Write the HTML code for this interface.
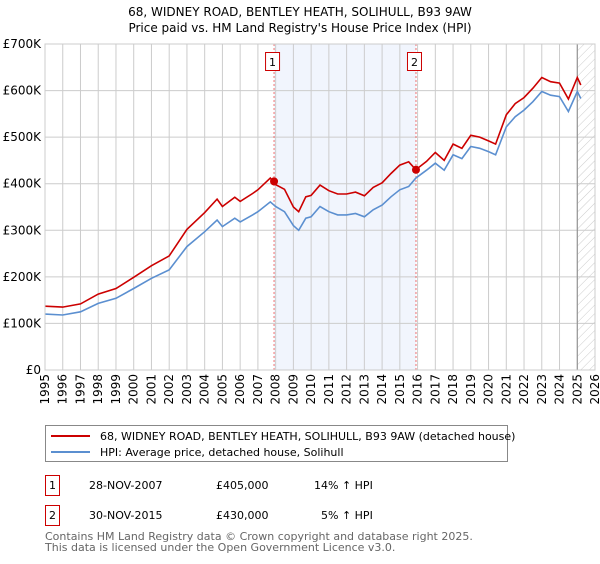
<!DOCTYPE html>
<html><head><meta charset="utf-8"><style>
body{margin:0;background:#fff;font-family:"DejaVu Sans","Liberation Sans",sans-serif;}
svg text{font-family:"DejaVu Sans","Liberation Sans",sans-serif;}
</style></head><body>
<svg id="c" width="600" height="560">
<defs><pattern id="hatch" width="6" height="6" patternUnits="userSpaceOnUse" patternTransform="rotate(45)"><line x1="0" y1="0" x2="0" y2="6" stroke="#ccc" stroke-width="1"/></pattern></defs>
<text x="300" y="16" text-anchor="middle" font-size="12">68, WIDNEY ROAD, BENTLEY HEATH, SOLIHULL, B93 9AW</text>
<text x="300" y="32" text-anchor="middle" font-size="12">Price paid vs. HM Land Registry's House Price Index (HPI)</text>
<g id="plot"></g>
<g>
<rect x="45.5" y="425.5" width="462" height="36" fill="#fff" stroke="#888"/>
<line x1="51" y1="436" x2="90" y2="436" stroke="#cc0000" stroke-width="2"/>
<text x="100" y="440" font-size="11">68, WIDNEY ROAD, BENTLEY HEATH, SOLIHULL, B93 9AW (detached house)</text>
<line x1="51" y1="452" x2="90" y2="452" stroke="#5b8fd0" stroke-width="2"/>
<text x="100" y="456" font-size="11">HPI: Average price, detached house, Solihull</text>
</g>
<g font-size="11">
<rect x="45.5" y="475.5" width="14" height="20" fill="#fff" stroke="#cc0000"/><text x="52.5" y="489" text-anchor="middle">1</text>
<text x="89" y="489">28-NOV-2007</text><text x="216" y="489">£405,000</text><text x="314" y="489">14% ↑ HPI</text>
<rect x="45.5" y="505.5" width="14" height="20" fill="#fff" stroke="#cc0000"/><text x="52.5" y="519" text-anchor="middle">2</text>
<text x="89" y="519">30-NOV-2015</text><text x="216" y="519">£430,000</text><text x="321" y="519">5% ↑ HPI</text>
</g>
<text x="45" y="540" font-size="11" fill="#666">Contains HM Land Registry data © Crown copyright and database right 2025.</text>
<text x="45" y="551" font-size="11" fill="#666">This data is licensed under the Open Government Licence v3.0.</text>
</svg>
<script>
const hpiYears=[1995,1996,1997,1998,1999,2000,2001,2002,2003,2004,2004.7,2005,2005.7,2006,2006.7,2007,2007.7,2008,2008.5,2009,2009.3,2009.7,2010,2010.5,2011,2011.5,2012,2012.5,2013,2013.5,2014,2014.5,2015,2015.5,2015.9,2016.5,2017,2017.5,2018,2018.5,2019,2019.5,2020,2020.4,2021,2021.5,2022,2022.5,2023,2023.5,2024,2024.5,2025,2025.2];
const hpiValues=[120,118,125,143,154,175,197,215,265,297,322,308,326,318,333,340,361,351,340,310,300,326,329,351,340,333,333,336,329,344,354,372,387,394,412,429,444,429,462,454,480,476,469,462,522,544,558,576,598,590,587,555,598,583];
const priceValues=[137,135,142,163,175,199,224,245,302,338,367,351,371,362,379,387,412,398,388,350,340,372,375,397,385,378,378,382,374,392,402,422,440,447,430,448,467,450,485,476,504,500,492,485,548,572,585,605,628,619,616,582,628,612];
const yTicks=[0,100,200,300,400,500,600,700];
const yTickLabels=["£0","£100K","£200K","£300K","£400K","£500K","£600K","£700K"];
const xTicks=[1995,1996,1997,1998,1999,2000,2001,2002,2003,2004,2005,2006,2007,2008,2009,2010,2011,2012,2013,2014,2015,2016,2017,2018,2019,2020,2021,2022,2023,2024,2025,2026];
const saleYears=[2007.91,2015.91];
const salePrices=[405,430];
const saleLabels=["1","2"];
const X0=45,X1=595,Y0=370,Y1=44;
const xs=y=>X0+(y-1995)/(2026-1995)*(X1-X0);
const ys=v=>Y0-v/700*(Y0-Y1);
const NS="http://www.w3.org/2000/svg";
const g=document.getElementById('plot');
function mk(t,a,p){const e=document.createElementNS(NS,t);for(const k in a)e.setAttribute(k,a[k]);(p||g).appendChild(e);return e;}
let e;
e=mk('rect',{x:xs(saleYears[0]),y:Y1,width:xs(saleYears[1])-xs(saleYears[0]),height:Y0-Y1,fill:'#eef3fc',opacity:0.8});


e=mk('rect',{x:xs(2025),y:Y1,width:X1-xs(2025),height:Y0-Y1,fill:'url(#hatch)'});


xTicks.forEach(t=>{
 e=mk('line',{x1:xs(t),x2:xs(t),y1:Y1,y2:Y0,stroke:'#ccc'});
 
 
 e=mk('text',{x:0,y:0,'font-size':12,'text-anchor':'end',transform:`translate(${xs(t)+4},${Y0+4}) rotate(-90)`});
 e.textContent=t;
 
 
});
yTicks.forEach((t,i)=>{
 e=mk('line',{x1:X0,x2:X1,y1:ys(t),y2:ys(t),stroke:'#ccc'});
 
 
 e=mk('text',{x:X0-4,y:ys(t)+4,'font-size':12,'text-anchor':'end'});
 e.textContent=yTickLabels[i];
 
 
});
e=mk('line',{x1:xs(2025),x2:xs(2025),y1:Y1,y2:Y0,stroke:'#888'});


saleYears.forEach((s,i)=>{
 e=mk('line',{x1:xs(s),x2:xs(s),y1:Y1,y2:Y0,stroke:'#f07070','stroke-dasharray':'2,2'});
 
 
});
const pts=v=>hpiYears.map((y,i)=>xs(y).toFixed(1)+','+ys(v[i]).toFixed(1)).join(' ');
e=mk('polyline',{points:pts(hpiValues),fill:'none',stroke:'#5b8fd0','stroke-width':1.6});


e=mk('polyline',{points:pts(priceValues),fill:'none',stroke:'#cc0000','stroke-width':1.6});


saleYears.forEach((s,i)=>{
 e=mk('circle',{cx:xs(s),cy:ys(salePrices[i]),r:4,fill:'#cc0000'});
 
 
 e=mk('rect',{x:xs(s)-8.5,y:52.5,width:14,height:18,fill:'#fff',stroke:'#cc0000'});
 
 
 e=mk('text',{x:xs(s)-1.5,y:66,'font-size':11,'text-anchor':'middle'});
 e.textContent=saleLabels[i];
 
 
});
e=mk('rect',{x:X0,y:Y1,width:X1-X0,height:Y0-Y1,fill:'none',stroke:'#ccc'});


</script>
</body></html>
